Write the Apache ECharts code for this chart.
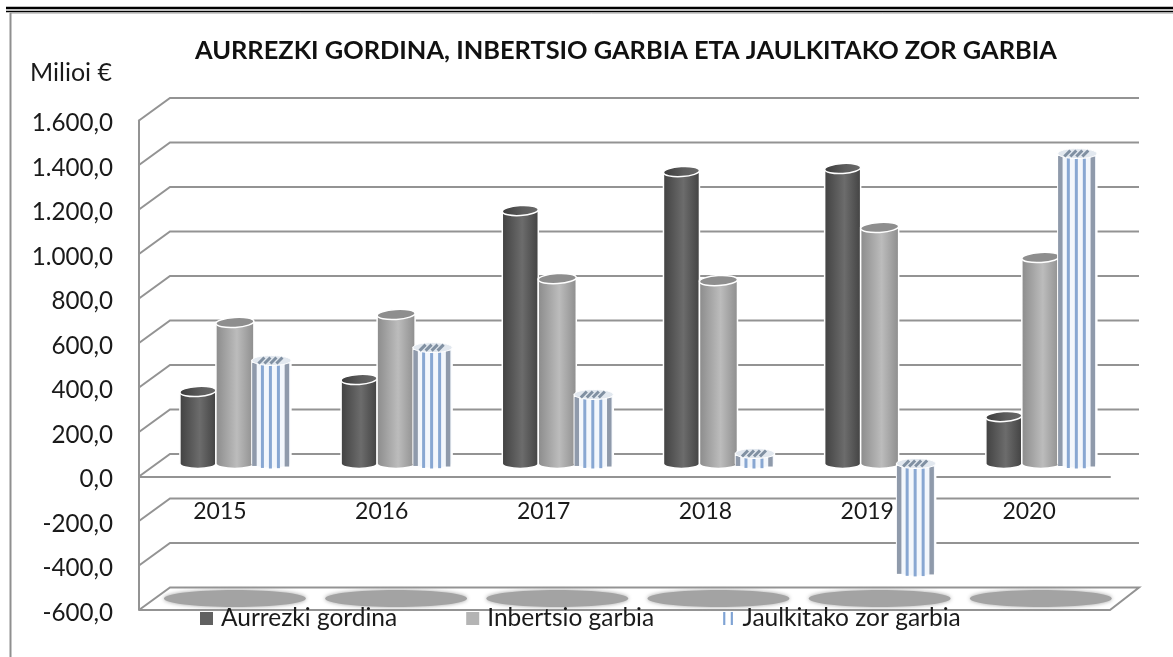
<!DOCTYPE html>
<html>
<head>
<meta charset="utf-8">
<title>Aurrezki gordina</title>
<script src="https://cdn.jsdelivr.net/npm/echarts@6/dist/echarts.min.js"></script>
<style>
html, body { margin: 0; padding: 0; background: #fff; }
#main { width: 1173px; height: 657px; }
</style>
</head>
<body>
<div id="main"></div>
<script>
// datuak
var years = ['2015', '2016', '2017', '2018', '2019', '2020'];
var aurrezkiGordina = [324, 378, 1137, 1312, 1326, 211];
var inbertsioGarbia = [634, 670, 831, 822, 1061, 926];
var jaulkitakoZorGarbia = [463, 521, 310, 45, -485, 1393];
var yTickValues = [-600, -400, -200, 0, 200, 400, 600, 800, 1000, 1200, 1400, 1600];
var yTickLabels = ['-600,0', '-400,0', '-200,0', '0,0', '200,0', '400,0', '600,0', '800,0', '1.000,0', '1.200,0', '1.400,0', '1.600,0'];

var FONT = 'Lato';
var DEPTH_X = 31, DEPTH_Y = 22.5;   // back wall offset
var BASE_SHIFT = 13;                // cylinders stand half way in the depth
var RY = 5;
var LINE = '#939393';

function pairs(arr) {
    return arr.map(function (v, i) { return [i, v]; });
}

function gradient(a, b, c) {
    return { type: 'linear', x: 0, y: 0, x2: 1, y2: 0,
        colorStops: [{ offset: 0, color: a }, { offset: 0.55, color: b }, { offset: 1, color: c }] };
}

function bodyPath(cx, r, yt, yb) {
    return 'M' + (cx - r) + ' ' + yt + 'L' + (cx - r) + ' ' + yb +
        'A' + r + ' ' + RY + ' 0 0 0 ' + (cx + r) + ' ' + yb +
        'L' + (cx + r) + ' ' + yt + 'Z';
}

function geometry(api, offset) {
    var idx = api.value(0), val = api.value(1);
    var p = api.coord([idx, val]);
    var z = api.coord([idx, 0]);
    var cx = z[0] + 15 - idx * 0.65 + offset;
    return { cx: cx, yBase: z[1] - BASE_SHIFT, yVal: p[1] - BASE_SHIFT };
}

// plain shaded cylinder
function solidCylinder(offset, r, fill, topFill) {
    return function (params, api) {
        var g = geometry(api, offset);
        return { type: 'group', children: [
            { type: 'path', shape: { pathData: bodyPath(g.cx, r, g.yVal, g.yBase) },
              style: { fill: fill, stroke: '#fff', lineWidth: 1.5 } },
            { type: 'ellipse', shape: { cx: g.cx, cy: g.yVal, rx: r, ry: RY },
              originX: g.cx, originY: g.yVal, rotation: 0.06,
              style: { fill: topFill, stroke: '#fff', lineWidth: 1.5 } }
        ] };
    };
}

// striped cylinder for jaulkitako zor garbia
function stripedCylinder(offset, r) {
    var lineX = [-17, -9, -1, 7, 15.5];
    var lineColor = ['#8f9aab', '#88a7d2', '#88a7d2', '#88a7d2', '#8f9aab'];
    var hatch = [-10, -4, 2, 8];
    return function (params, api) {
        var g = geometry(api, offset);
        var yt = Math.min(g.yVal, g.yBase), yb = Math.max(g.yVal, g.yBase);
        var kids = [{ type: 'path', shape: { pathData: bodyPath(g.cx, r, yt, yb) },
            style: { fill: '#f3f7fc', stroke: '#fff', lineWidth: 1.5 } }];
        lineX.forEach(function (dx, i) {
            var curve = RY * Math.sqrt(1 - (dx * dx) / (r * r));
            kids.push({ type: 'line',
                shape: { x1: g.cx + dx, y1: yt + curve, x2: g.cx + dx, y2: yb + curve },
                style: { stroke: lineColor[i], lineWidth: i === 0 || i === 4 ? 4.5 : 3 } });
        });
        kids.push({ type: 'ellipse', shape: { cx: g.cx, cy: yt, rx: r, ry: RY },
            style: { fill: '#e2e8ef', stroke: '#fff', lineWidth: 1 } });
        hatch.forEach(function (dx) {
            kids.push({ type: 'line',
                shape: { x1: g.cx + dx - 3, y1: yt + 3, x2: g.cx + dx + 3, y2: yt - 3 },
                style: { stroke: '#8090a2', lineWidth: 3 } });
        });
        return { type: 'group', children: kids };
    };
}

function renderWall(params, api) {
    var v = api.value(1);
    var cs = params.coordSys;
    var y = api.coord([0, v])[1];
    var x0 = cs.x, x1 = cs.x + cs.width;
    var style = { stroke: LINE, lineWidth: 2, fill: null };
    var pts = [[x0, y], [x0 + DEPTH_X, y - DEPTH_Y], [x1 + 29, y - DEPTH_Y]];
    if (v === yTickValues[0]) {
        pts.push([x1, y], [x0, y]);
    }
    return { type: 'polyline', shape: { points: pts }, style: style };
}

function renderFloorShadow(params, api) {
    var idx = api.value(0);
    var p = api.coord([idx, yTickValues[0]]);
    return { type: 'ellipse',
        shape: { cx: p[0] + 15 - idx * 0.65, cy: p[1] - 11.5, rx: 71, ry: 8.5 },
        style: { fill: '#a3a3a3', shadowBlur: 4, shadowColor: '#a3a3a3' } };
}

var lineChart = echarts.init(document.getElementById('main'), null, { renderer: 'canvas' });

var option = {
    animation: false,
    backgroundColor: '#fff',
    textStyle: { fontFamily: FONT },
    title: [
        { text: 'AURREZKI GORDINA, INBERTSIO GARBIA ETA JAULKITAKO ZOR GARBIA',
          left: 190, top: 33,
          textStyle: { fontFamily: FONT, fontSize: 25.4, fontWeight: 'bold', color: '#111' } },
        { text: 'Milioi €', left: 25, top: 55,
          textStyle: { fontFamily: FONT, fontSize: 25, fontWeight: 'normal', color: '#1a1a1a' } }
    ],
    legend: {
        left: 195, top: 601, itemWidth: 13, itemHeight: 13, itemGap: 69,
        selectedMode: false,
        textStyle: { fontFamily: FONT, fontSize: 24.5, color: '#1a1a1a', padding: [2, 0, 0, 3] },
        data: [
            { name: 'Aurrezki gordina', icon: 'rect', itemStyle: { color: '#616161' } },
            { name: 'Inbertsio garbia', icon: 'rect', itemStyle: { color: '#b4b4b4' } },
            { name: 'Jaulkitako zor garbia',
              icon: 'path://M0 0h2v12h-2zM7 0h2v12h-2z', itemStyle: { color: '#7fa3d4' } }
        ]
    },
    graphic: [
        { type: 'line', shape: { x1: 6, y1: 8, x2: 1173, y2: 8 }, style: { stroke: '#000', lineWidth: 2.5 } },
        { type: 'line', shape: { x1: 6, y1: 11.5, x2: 1173, y2: 11.5 }, style: { stroke: '#000', lineWidth: 1.5 } },
        { type: 'line', shape: { x1: 10, y1: 13, x2: 1173, y2: 13 }, style: { stroke: '#9a9a9a', lineWidth: 1 } },
        { type: 'line', shape: { x1: 10.5, y1: 13, x2: 10.5, y2: 657 }, style: { stroke: '#8f8f8f', lineWidth: 2 } }
    ],
    grid: { left: 139, right: 63, top: 120.5, bottom: 47 },
    xAxis: {
        type: 'category',
        data: years,
        axisLine: { onZero: true, lineStyle: { color: LINE, width: 2 } },
        axisTick: { show: false },
        axisLabel: { margin: -110, fontFamily: FONT, fontSize: 23, color: '#1a1a1a' },
        splitLine: { show: false }
    },
    yAxis: {
        type: 'value',
        min: -600,
        max: 1600,
        interval: 200,
        axisLine: { show: true, lineStyle: { color: LINE, width: 2 } },
        axisTick: { show: false },
        splitLine: { show: false },
        axisLabel: {
            margin: 26,
            rich: { v: { fontFamily: FONT, fontSize: 24.2, color: '#1a1a1a', padding: [6, 0, 0, 0] } },
            formatter: function (v) { return '{v|' + yTickLabels[yTickValues.indexOf(v)] + '}'; }
        }
    },
    series: [
        { type: 'custom', name: 'wall', z: 1, silent: true, clip: false,
          data: yTickValues.map(function (v) { return [0, v]; }),
          encode: { x: 0, y: 1 }, renderItem: renderWall },
        { type: 'custom', name: 'shadow', z: 2, silent: true, clip: false,
          data: years.map(function (y, i) { return [i, yTickValues[0]]; }),
          encode: { x: 0, y: 1 }, renderItem: renderFloorShadow },
        { type: 'custom', name: 'Aurrezki gordina', z: 3, clip: false,
          itemStyle: { color: '#616161' },
          data: pairs(aurrezkiGordina), encode: { x: 0, y: 1 },
          renderItem: solidCylinder(-37, 18, gradient('#404040', '#6c6c6c', '#414141'), gradient('#3a3a3a', '#5c5c5c', '#6a6a6a')) },
        { type: 'custom', name: 'Inbertsio garbia', z: 4, clip: false,
          itemStyle: { color: '#b4b4b4' },
          data: pairs(inbertsioGarbia), encode: { x: 0, y: 1 },
          renderItem: solidCylinder(0, 19, gradient('#8a8a8a', '#bcbcbc', '#8c8c8c'), '#8e8e8e') },
        { type: 'custom', name: 'Jaulkitako zor garbia', z: 5, clip: false,
          itemStyle: { color: '#7fa3d4' },
          data: pairs(jaulkitakoZorGarbia), encode: { x: 0, y: 1 },
          renderItem: stripedCylinder(36.5, 19.5) }
    ]
};
lineChart.setOption(option);
</script>
</body>
</html>
